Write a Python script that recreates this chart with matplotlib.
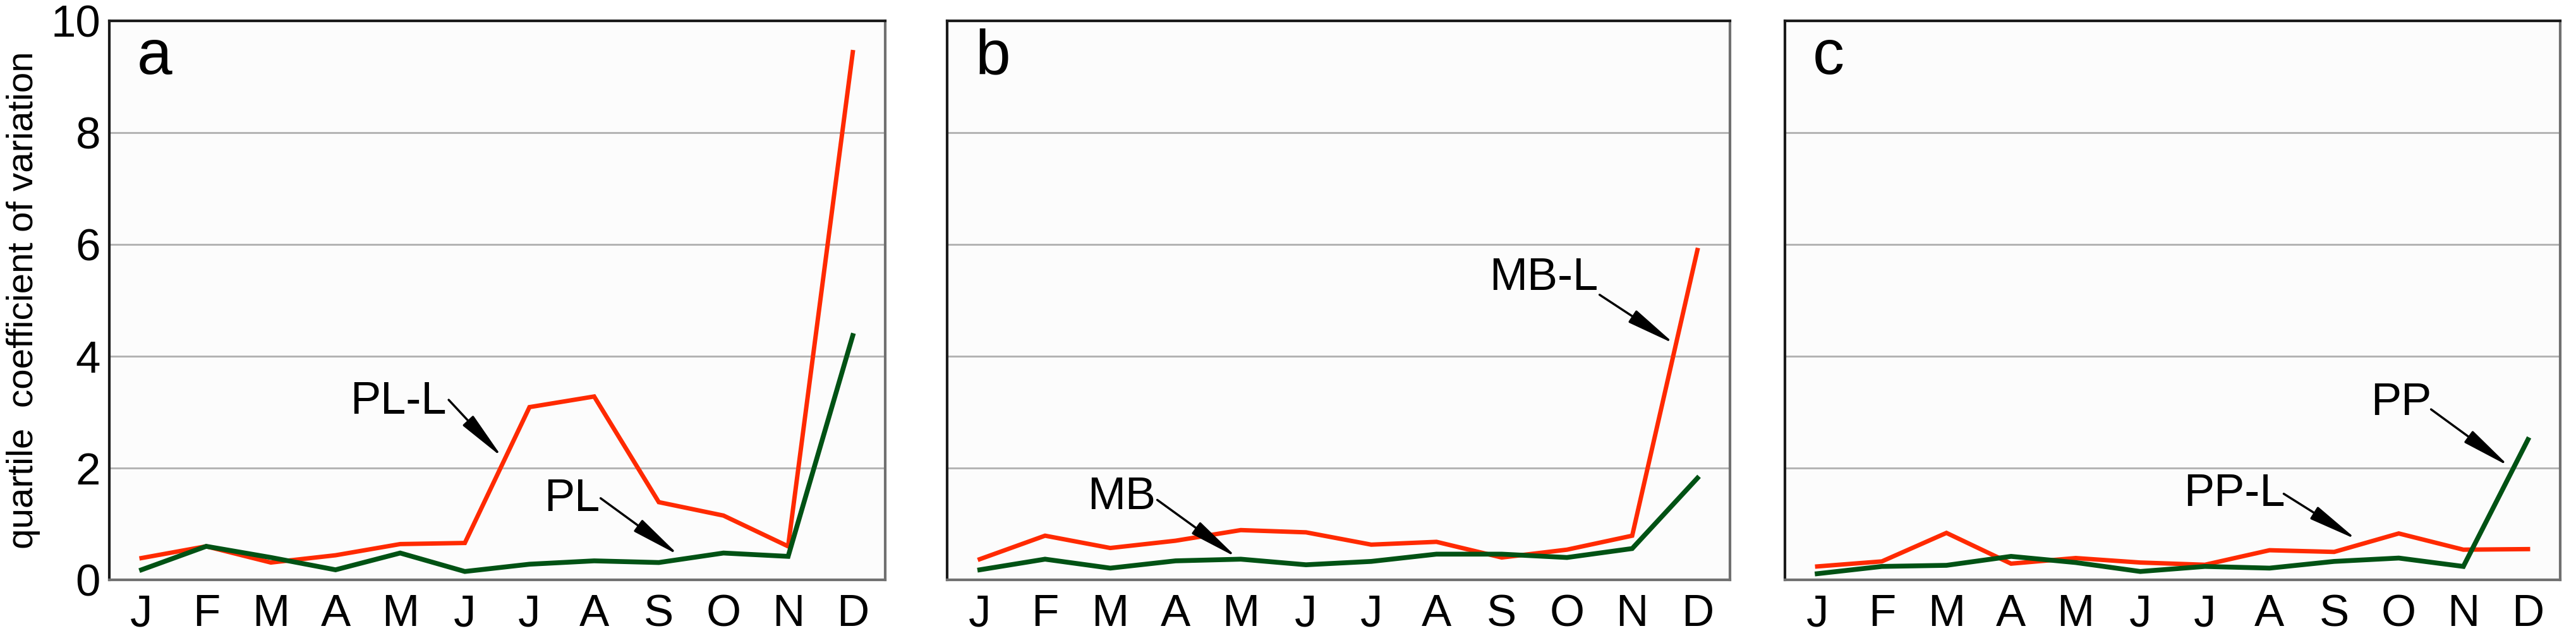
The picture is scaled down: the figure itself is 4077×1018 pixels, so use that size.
import numpy as np
import matplotlib
matplotlib.use("Agg")
import matplotlib.pyplot as plt

months = ['J', 'F', 'M', 'A', 'M', 'J', 'J', 'A', 'S', 'O', 'N', 'D']

# panel a
pl_l = [0.39, 0.60, 0.31, 0.44, 0.64, 0.66, 3.09, 3.28, 1.39, 1.15, 0.60, 9.44]
pl = [0.18, 0.60, 0.40, 0.18, 0.48, 0.15, 0.28, 0.34, 0.31, 0.48, 0.42, 4.37]
# panel b
mb_l = [0.37, 0.79, 0.57, 0.70, 0.89, 0.85, 0.63, 0.68, 0.40, 0.54, 0.79, 5.90]
mb = [0.18, 0.37, 0.21, 0.34, 0.37, 0.27, 0.33, 0.46, 0.46, 0.40, 0.56, 1.82]
# panel c
pp_l = [0.24, 0.33, 0.84, 0.29, 0.39, 0.31, 0.27, 0.53, 0.50, 0.83, 0.54, 0.55]
pp = [0.11, 0.24, 0.26, 0.42, 0.31, 0.15, 0.24, 0.21, 0.33, 0.39, 0.24, 2.51]

yticks = [0, 2, 4, 6, 8, 10]
panel_letters = ['a', 'b', 'c']
red_series = [pl_l, mb_l, pp_l]
green_series = [pl, mb, pp]

# label text, text anchor (right, center), arrow tail, arrow head
labels = [
    [('PL-L', (4.72, 3.18), (4.75, 3.22), (5.58, 2.19)),
     ('PL', (7.09, 1.44), (7.10, 1.46), (8.31, 0.44))],
    [('MB-L', (9.48, 5.39), (9.50, 5.10), (10.65, 4.22)),
     ('MB', (2.70, 1.47), (2.72, 1.43), (3.94, 0.40))],
    [('PP', (9.51, 3.16), (9.50, 3.05), (10.71, 2.03)),
     ('PP-L', (7.24, 1.53), (7.22, 1.54), (8.35, 0.72))],
]

RED = '#ff2a00'
GREEN = '#005214'
plt.rcParams['font.family'] = ['Liberation Sans', 'DejaVu Sans']

fig = plt.figure(figsize=(40.77, 10.18), dpi=100)
lefts = [0.0424, 0.3677, 0.6929]
widths = [0.3012, 0.3039, 0.3010]
x = np.arange(len(months))

for i in range(3):
    ax = fig.add_axes([lefts[i], 0.0982, widths[i], 0.8694])
    ax.set_facecolor('#fcfcfc')
    ax.set_xlim(-0.5, 11.5)
    ax.set_ylim(0, 10)
    ax.set_yticks(yticks)
    ax.grid(axis='y', color='#b4b4b4', lw=2.2)
    ax.set_axisbelow(True)
    ax.plot(x, red_series[i], color=RED, lw=5, solid_joinstyle='miter', zorder=3)
    ax.plot(x, green_series[i], color=GREEN, lw=5.5, solid_joinstyle='miter', zorder=3)
    ax.set_xticks(x)
    ax.set_xticklabels(months, fontsize=51)
    ax.tick_params(axis='x', length=0, pad=16)
    ax.tick_params(axis='y', length=0, pad=10)
    if i == 0:
        ax.set_yticklabels([str(v) for v in yticks], fontsize=51)
        ax.set_ylabel('quartile  coefficient of variation', fontsize=42, labelpad=12)
    else:
        ax.set_yticklabels([])
    for side in ['top', 'left']:
        ax.spines[side].set_color('#1a1a1a')
        ax.spines[side].set_linewidth(3)
    for side in ['bottom', 'right']:
        ax.spines[side].set_color('#707070')
        ax.spines[side].set_linewidth(3)
    ax.text(0.036, 0.905, panel_letters[i], transform=ax.transAxes, fontsize=72,
            va='baseline', ha='left')
    for txt, tpos, tail, head in labels[i]:
        ax.text(tpos[0], tpos[1], txt, fontsize=52, ha='right', va='center', zorder=5)
        ax.annotate('', xy=head, xytext=tail,
                    arrowprops=dict(arrowstyle='-|>,head_length=2.4,head_width=0.35',
                                    mutation_scale=20, color='black', lw=2.5,
                                    shrinkA=0, shrinkB=0), zorder=5)

fig.savefig('out.png', dpi=100, facecolor='white')
